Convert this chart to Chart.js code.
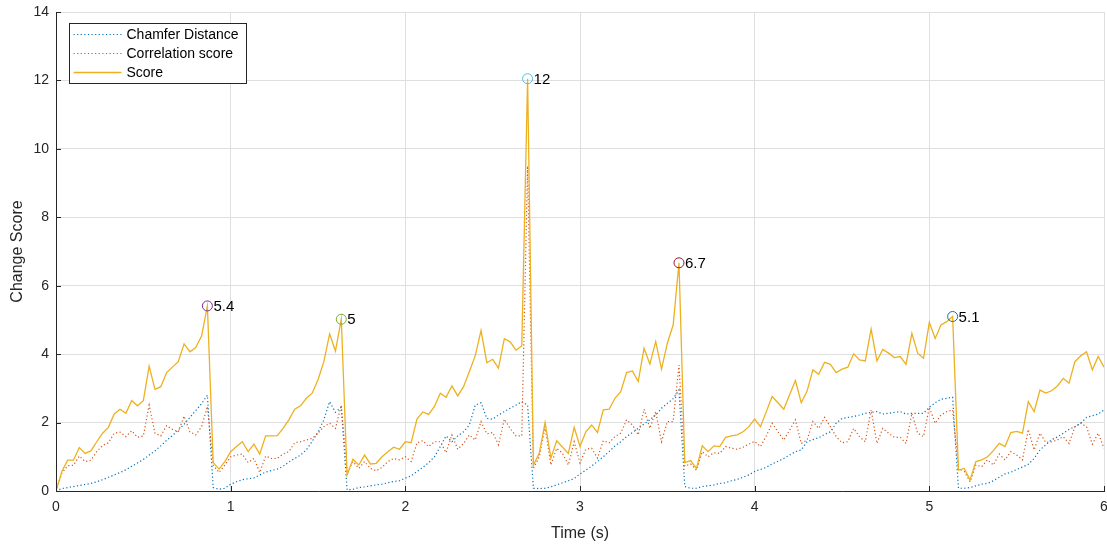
<!DOCTYPE html>
<html>
<head>
<meta charset="utf-8">
<script src="https://cdn.jsdelivr.net/npm/chart.js@4.4.1/dist/chart.umd.min.js"></script>
<style>
  body { margin: 0; background: #fff; }
  canvas { display: block; }
</style>
</head>
<body>
<canvas id="changeChart" width="1107" height="547"></canvas>
<script>
// samples at 30 frames per second, 0 .. 6 s
const frameRate = 30;

const chamferDistance = [
  0, 0.07, 0.1, 0.13, 0.16, 0.19, 0.22, 0.27, 0.33, 0.4,
  0.47, 0.54, 0.62, 0.72, 0.82, 0.92, 1.05, 1.17, 1.32, 1.48,
  1.62, 1.78, 1.95, 2.15, 2.35, 2.55, 2.8, 0.1, 0.05, 0.08,
  0.2, 0.27, 0.33, 0.36, 0.38, 0.47, 0.55, 0.6, 0.64, 0.72,
  0.85, 0.95, 1.05, 1.2, 1.45, 1.72, 2.08, 2.61, 2.3, 2.45,
  0.03, 0.05, 0.1, 0.12, 0.15, 0.18, 0.2, 0.24, 0.28, 0.3,
  0.38, 0.44, 0.57, 0.69, 0.83, 1.0, 1.3, 1.61, 1.44, 1.61,
  1.73, 1.93, 2.51, 2.58, 2.12, 2.1, 2.22, 2.32, 2.42, 2.51,
  2.61, 2.51, 0.08, 0.07, 0.08, 0.12, 0.18, 0.24, 0.3, 0.36,
  0.5, 0.61, 0.73, 0.86, 1.0, 1.15, 1.32, 1.44, 1.59, 1.71,
  1.83, 1.96, 2.08, 2.22, 2.42, 2.56, 2.7, 2.95, 0.13, 0.08,
  0.08, 0.13, 0.15, 0.18, 0.22, 0.24, 0.3, 0.34, 0.4, 0.47,
  0.57, 0.63, 0.69, 0.79, 0.87, 0.95, 1.05, 1.15, 1.2, 1.44,
  1.5, 1.56, 1.65, 1.73, 1.98, 2.12, 2.15, 2.18, 2.22, 2.27,
  2.3, 2.32, 2.25, 2.27, 2.3, 2.32, 2.25, 2.27, 2.27, 2.27,
  2.45, 2.58, 2.68, 2.71, 2.74, 0.08, 0.08, 0.1, 0.15, 0.2,
  0.22, 0.3, 0.4, 0.5, 0.55, 0.63, 0.7, 0.78, 0.95, 1.2,
  1.35, 1.5, 1.58, 1.69, 1.8, 1.88, 1.98, 2.15, 2.2, 2.25,
  2.37
];

const correlationScore = [
  0, 0.52, 0.74, 0.75, 1.02, 0.86, 0.9, 1.15, 1.33, 1.41,
  1.69, 1.72, 1.59, 1.76, 1.57, 1.61, 2.51, 1.69, 1.61, 1.91,
  1.8, 1.73, 2.19, 1.73, 1.64, 1.88, 2.47, 0.76, 0.54, 0.76,
  1.0, 1.05, 1.08, 0.83, 0.95, 0.54, 1.02, 0.95, 0.95, 1.08,
  1.15, 1.41, 1.44, 1.49, 1.54, 1.69, 1.88, 1.98, 1.83, 2.51,
  0.52, 0.86, 0.66, 0.86, 0.66, 0.59, 0.69, 0.86, 0.95, 0.91,
  1.0, 0.86, 1.41, 1.47, 1.3, 1.44, 1.44, 1.12, 1.64, 1.22,
  1.39, 1.64, 1.49, 2.03, 1.67, 1.71, 1.35, 2.1, 1.83, 1.61,
  1.61, 9.5, 0.66, 1.0, 1.88, 0.76, 1.25, 1.1, 0.76, 1.44,
  0.82, 1.22, 1.25, 0.96, 1.47, 1.41, 1.59, 1.69, 2.08, 1.93,
  1.64, 2.39, 1.83, 2.32, 1.44, 2.03, 2.03, 3.68, 0.73, 0.79,
  0.61, 1.15, 1.0, 1.12, 1.1, 1.3, 1.25, 1.22, 1.28, 1.37,
  1.45, 1.3, 1.61, 1.98, 1.73, 1.49, 1.78, 2.08, 1.39, 1.49,
  2.03, 1.83, 2.15, 1.88, 1.59, 1.41, 1.44, 1.83, 1.59, 1.44,
  2.37, 1.39, 1.83, 1.69, 1.57, 1.57, 1.39, 2.27, 1.69, 1.59,
  2.45, 1.98, 2.22, 2.32, 2.37, 0.66, 0.57, 0.27, 0.76, 0.71,
  0.91, 0.76, 1.08, 0.91, 1.15, 1.05, 0.91, 1.8, 1.2, 1.69,
  1.42, 1.44, 1.49, 1.59, 1.39, 1.88, 1.98, 1.88, 1.37, 1.69,
  1.25
];

const score = [
  0, 0.57, 0.9, 0.9, 1.27, 1.1, 1.17, 1.44, 1.69, 1.86,
  2.25, 2.39, 2.27, 2.64, 2.49, 2.64, 3.65, 2.97, 3.05, 3.46,
  3.62, 3.78, 4.3, 4.07, 4.19, 4.53, 5.41, 0.83, 0.64, 0.86,
  1.15, 1.3, 1.44, 1.15, 1.37, 1.08, 1.61, 1.61, 1.62, 1.83,
  2.08, 2.39, 2.49, 2.71, 2.86, 3.25, 3.78, 4.59, 4.09, 5.02,
  0.47, 0.93, 0.76, 1.05, 0.79, 0.81, 1.0, 1.15, 1.28, 1.22,
  1.44, 1.41, 2.1, 2.31, 2.24, 2.47, 2.86, 2.74, 3.07, 2.78,
  3.05, 3.49, 3.95, 4.69, 3.75, 3.85, 3.59, 4.45, 4.36, 4.12,
  4.24, 12.05, 0.76, 1.1, 2.0, 0.96, 1.47, 1.28, 1.1, 1.86,
  1.3, 1.73, 1.93, 1.71, 2.37, 2.39, 2.71, 2.9, 3.46, 3.51,
  3.2, 4.17, 3.71, 4.37, 3.56, 4.32, 4.85, 6.67, 0.83, 0.89,
  0.66, 1.32, 1.15, 1.32, 1.3, 1.57, 1.61, 1.64, 1.73, 1.88,
  2.1, 1.88, 2.32, 2.76, 2.58, 2.39, 2.81, 3.23, 2.58, 2.92,
  3.54, 3.41, 3.76, 3.7, 3.46, 3.56, 3.62, 4.01, 3.83, 3.8,
  4.73, 3.8, 4.14, 4.03, 3.9, 3.93, 3.7, 4.61, 4.03, 3.88,
  4.93, 4.46, 4.85, 4.95, 5.1, 0.61, 0.66, 0.32, 0.86, 0.91,
  1.0, 1.18, 1.39, 1.3, 1.71, 1.74, 1.69, 2.61, 2.32, 2.95,
  2.86, 2.93, 3.07, 3.29, 3.15, 3.78, 3.95, 4.07, 3.54, 3.93,
  3.62
];

// detected change points (sample index into score)
const peakIndex = [26, 49, 81, 107, 154];
const peakLabels = ['5.4', '5', '12', '6.7', '5.1'];
const peakColors = ['#7E2F8E', '#77AC30', '#4DBEEE', '#A2142F', '#0072BD'];

const xTicks = [0, 1, 2, 3, 4, 5, 6];
const yTicks = [0, 2, 4, 6, 8, 10, 12, 14];

const time = score.map((_, i) => i / frameRate);
const toPoints = arr => arr.map((v, i) => ({ x: time[i], y: v }));

const axisColor = '#262626';
const gridColor = '#dfdfdf';
const fontFamily = '"Liberation Sans", Arial, Helvetica, sans-serif';
const dots = [1.2, 2.4];

// matlab-ish look: inward ticks, legend box inside, peak text
const matlabExtras = {
  id: 'matlabExtras',
  afterDraw(chart) {
    const ctx = chart.ctx;
    const area = chart.chartArea;
    const xs = chart.scales.x, ys = chart.scales.y;
    ctx.save();

    // inward ticks
    ctx.strokeStyle = axisColor;
    ctx.lineWidth = 1;
    ctx.beginPath();
    xTicks.forEach(v => {
      const px = Math.round(xs.getPixelForValue(v)) + 0.5;
      ctx.moveTo(px, area.bottom);
      ctx.lineTo(px, area.bottom - 5);
    });
    yTicks.forEach(v => {
      const py = Math.round(ys.getPixelForValue(v)) + 0.5;
      ctx.moveTo(area.left, py);
      ctx.lineTo(area.left + 5, py);
    });
    ctx.stroke();

    // peak labels
    const meta = chart.getDatasetMeta(3);
    ctx.fillStyle = '#000';
    ctx.font = '15px ' + fontFamily;
    ctx.textBaseline = 'middle';
    ctx.textAlign = 'left';
    meta.data.forEach((pt, i) => {
      ctx.fillText(peakLabels[i], pt.x + 6, pt.y + 1);
    });

    // legend
    const lx = Math.round(area.left) + 13.5;
    const ly = Math.round(area.top) + 11.5;
    const lw = 177, lh = 60;
    ctx.fillStyle = '#fff';
    ctx.fillRect(lx, ly, lw, lh);
    ctx.strokeStyle = axisColor;
    ctx.lineWidth = 1;
    ctx.strokeRect(lx, ly, lw, lh);
    ctx.font = '14px ' + fontFamily;
    chart.data.datasets.slice(0, 3).forEach((ds, i) => {
      const y = ly + 11 + i * 19;
      ctx.beginPath();
      ctx.setLineDash(ds.borderDash || []);
      ctx.strokeStyle = ds.borderColor;
      ctx.lineWidth = ds.borderWidth;
      ctx.moveTo(lx + 4, y);
      ctx.lineTo(lx + 52, y);
      ctx.stroke();
      ctx.setLineDash([]);
      ctx.fillStyle = '#000';
      ctx.fillText(ds.label, lx + 57, y + 1);
    });
    ctx.restore();
  }
};

const ctx = document.getElementById('changeChart').getContext('2d');
new Chart(ctx, {
  type: 'line',
  data: {
    datasets: [
      {
        label: 'Chamfer Distance',
        data: toPoints(chamferDistance),
        borderColor: '#0072BD',
        borderWidth: 1.2,
        borderDash: dots,
        pointRadius: 0,
        order: 3
      },
      {
        label: 'Correlation score',
        data: toPoints(correlationScore),
        borderColor: '#D95319',
        borderWidth: 1.2,
        borderDash: dots,
        pointRadius: 0,
        order: 2
      },
      {
        label: 'Score',
        data: toPoints(score),
        borderColor: '#EDB120',
        borderWidth: 1.3,
        pointRadius: 0,
        order: 1
      },
      {
        label: 'peaks',
        data: peakIndex.map(i => ({ x: time[i], y: score[i] })),
        showLine: false,
        pointRadius: 5,
        pointBorderWidth: 1,
        pointBorderColor: peakColors,
        pointBackgroundColor: 'rgba(0,0,0,0)',
        order: 0
      }
    ]
  },
  options: {
    responsive: false,
    animation: false,
    devicePixelRatio: 1,
    layout: { autoPadding: false, padding: { top: 12, right: 3, left: 0, bottom: 0 } },
    plugins: {
      legend: { display: false },
      tooltip: { enabled: false }
    },
    scales: {
      x: {
        type: 'linear',
        min: 0,
        max: 6,
        afterBuildTicks: s => { s.ticks = xTicks.map(v => ({ value: v })); },
        ticks: { color: axisColor, font: { family: fontFamily, size: 14 }, padding: 8, maxRotation: 0 },
        grid: { color: gridColor, drawTicks: false },
        border: { color: axisColor },
        title: { display: true, text: 'Time (s)', color: axisColor, font: { family: fontFamily, size: 16 }, padding: { top: 0, bottom: 4 } },
        afterFit: s => { s.height = 56; s.paddingLeft = 0; s.paddingRight = 0; }
      },
      y: {
        min: 0,
        max: 14,
        afterBuildTicks: s => { s.ticks = yTicks.map(v => ({ value: v })); },
        ticks: { color: axisColor, font: { family: fontFamily, size: 14 }, padding: 7 },
        grid: { color: gridColor, drawTicks: false },
        border: { color: axisColor },
        title: { display: true, text: 'Change Score', color: axisColor, font: { family: fontFamily, size: 16 }, padding: { top: 8, bottom: 0 } },
        afterFit: s => { s.width = 56; s.paddingTop = 0; s.paddingBottom = 0; }
      }
    }
  },
  plugins: [matlabExtras]
});
</script>
</body>
</html>
